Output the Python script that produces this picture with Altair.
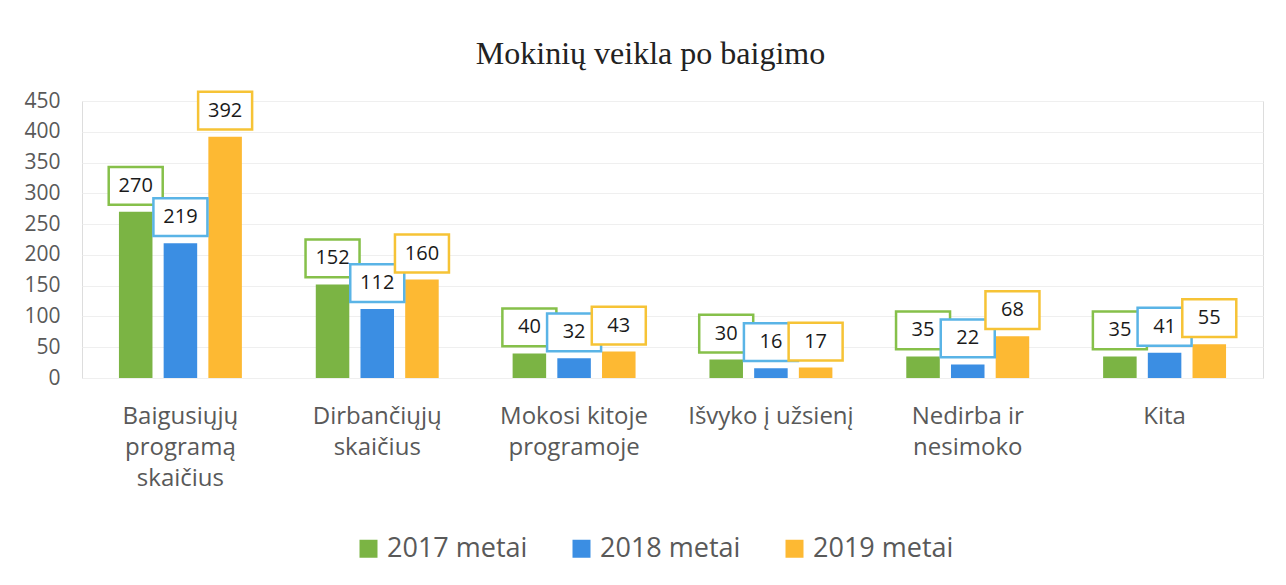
import altair as alt
import pandas as pd

categories = [
    "Baigusiųjų|programą|skaičius",
    "Dirbančiųjų|skaičius",
    "Mokosi kitoje|programoje",
    "Išvyko į užsienį",
    "Nedirba ir|nesimoko",
    "Kita",
]
years = ["2017 metai", "2018 metai", "2019 metai"]
v2017 = [270, 152, 40, 30, 35, 35]
v2018 = [219, 112, 32, 16, 22, 41]
v2019 = [392, 160, 43, 17, 68, 55]
y_ticks = [0, 50, 100, 150, 200, 250, 300, 350, 400, 450]

bar_colors = ["#7bb444", "#3b8ee3", "#fdb933"]
box_colors = ["#86c04a", "#5ab4e6", "#f6c336"]

rows = []
for vals, yr in zip([v2017, v2018, v2019], years):
    for c, v in zip(categories, vals):
        rows.append({"cat": c, "year": yr, "value": v})
df = pd.DataFrame(rows)

FONT = "Open Sans"
GRAY = "#595959"

base = alt.Chart(df).encode(
    x=alt.X(
        "cat:N",
        sort=categories,
        scale=alt.Scale(paddingInner=0.33, paddingOuter=0.165),
        axis=alt.Axis(
            title=None,
            labelAngle=0,
            domain=False,
            ticks=False,
            labelPadding=26,
            labelFontSize=24,
            labelLineHeight=31,
            labelColor=GRAY,
            labelFont=FONT,
            labelExpr="split(datum.label, '|')",
            labelBaseline="top",
        ),
    ),
    xOffset=alt.XOffset(
        "year:N", sort=years, scale=alt.Scale(paddingInner=0.25, paddingOuter=0.1)
    ),
    y=alt.Y(
        "value:Q",
        scale=alt.Scale(domain=[0, 450], nice=False),
        axis=alt.Axis(
            title=None,
            values=y_ticks,
            domain=False,
            ticks=False,
            labelPadding=22,
            labelFontSize=21,
            labelColor=GRAY,
            labelFont=FONT,
            gridColor="#efefef",
            gridWidth=1,
        ),
    ),
)

bars = base.mark_bar().encode(
    color=alt.Color(
        "year:N",
        sort=years,
        scale=alt.Scale(domain=years, range=bar_colors),
        legend=alt.Legend(
            title=None,
            orient="none",
            legendX=273,
            legendY=434,
            direction="horizontal",
            symbolType="square",
            symbolSize=324,
            symbolStrokeWidth=0,
            labelFontSize=27,
            labelFont=FONT,
            labelColor=GRAY,
            columnPadding=40,
            labelOffset=5,
        ),
    )
)

box_shape = "M-1,-0.7L1,-0.7L1,0.7L-1,0.7Z"
boxes = base.mark_point(
    shape=box_shape,
    size=2916,
    filled=False,
    fill="white",
    fillOpacity=1,
    opacity=1,
    strokeWidth=2.5,
    yOffset=-26,
).encode(
    stroke=alt.Stroke(
        "year:N", sort=years, scale=alt.Scale(domain=years, range=box_colors), legend=None
    )
)

labels = base.mark_text(
    yOffset=-26, fontSize=20, font=FONT, color="#1a1a1a", baseline="middle", align="center"
).encode(text="value:Q")

chart = (
    alt.layer(bars, boxes, labels)
    .properties(
        width=1181,
        height=277,
        autosize=alt.AutoSizeParams(type="none"),
        padding={"left": 74, "top": 93, "right": 15, "bottom": 191},
        title=alt.TitleParams(
            "Mokinių veikla po baigimo",
            font="Liberation Serif",
            fontSize=32,
            fontWeight="normal",
            color="#222222",
            anchor="middle",
            dx=-22,
            offset=16,
        ),
    )
    .configure_view(stroke=None)
    .configure(background="white")
)

chart.save("out.html", embed_options={"renderer": "svg", "actions": False})
